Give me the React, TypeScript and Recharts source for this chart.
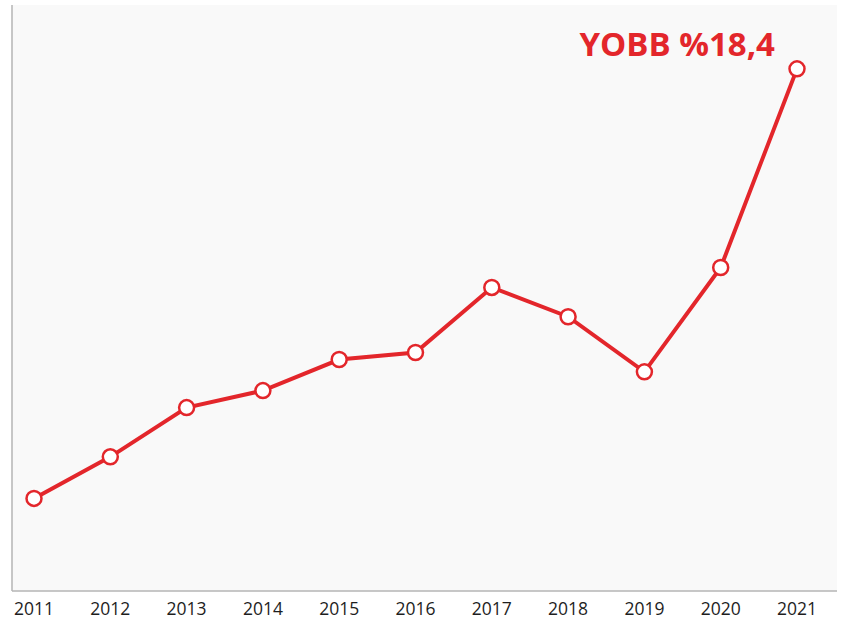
import { LineChart, Line, XAxis, YAxis, CartesianGrid, LabelList } from 'recharts'

const years = ['2011', '2012', '2013', '2014', '2015', '2016', '2017', '2018', '2019', '2020', '2021']
const values = [15.8, 22.9, 31.3, 34.2, 39.5, 40.7, 51.8, 46.8, 37.4, 55.2, 89.1]
const annotation = 'YOBB %18,4'

const RED = '#e3262b'

const data = years.map((year, i) => ({ year, value: values[i] }))

function LastLabel(props: any) {
  const { x, y, index } = props
  if (index !== data.length - 1) return null
  return (
    <text
      x={x - 22}
      y={y - 13}
      textAnchor="end"
      fill={RED}
      fontFamily="'Open Sans', sans-serif"
      fontWeight={700}
      fontSize={33}
    >
      {annotation}
    </text>
  )
}

function App() {
  return (
    <div style={{ position: 'absolute', left: 0, top: 0, width: 841, height: 623, background: '#fff' }}>
      <LineChart width={841} height={623} data={data} margin={{ top: 5, right: 4, left: 0, bottom: 0 }}>
        <CartesianGrid fill="#f9f9f9" horizontal={false} vertical={false} />
        <XAxis
          dataKey="year"
          height={32}
          padding={{ left: 22, right: 40 }}
          tickLine={false}
          tickMargin={6}
          axisLine={{ stroke: '#b5b5b5', strokeWidth: 1.5 }}
          tick={{ fill: '#1e1e1e', fontSize: 17.5, fontFamily: "'Open Sans', sans-serif" }}
          interval={0}
        />
        <YAxis
          width={12}
          domain={[0, 100]}
          tick={false}
          tickLine={false}
          axisLine={{ stroke: '#b5b5b5', strokeWidth: 1.5 }}
        />
        <Line
          type="linear"
          dataKey="value"
          stroke={RED}
          strokeWidth={4}
          dot={{ r: 7.5, fill: '#fff', stroke: RED, strokeWidth: 2.5 }}
          isAnimationActive={false}
        >
          <LabelList dataKey="value" content={LastLabel} />
        </Line>
      </LineChart>
    </div>
  )
}

export default App
